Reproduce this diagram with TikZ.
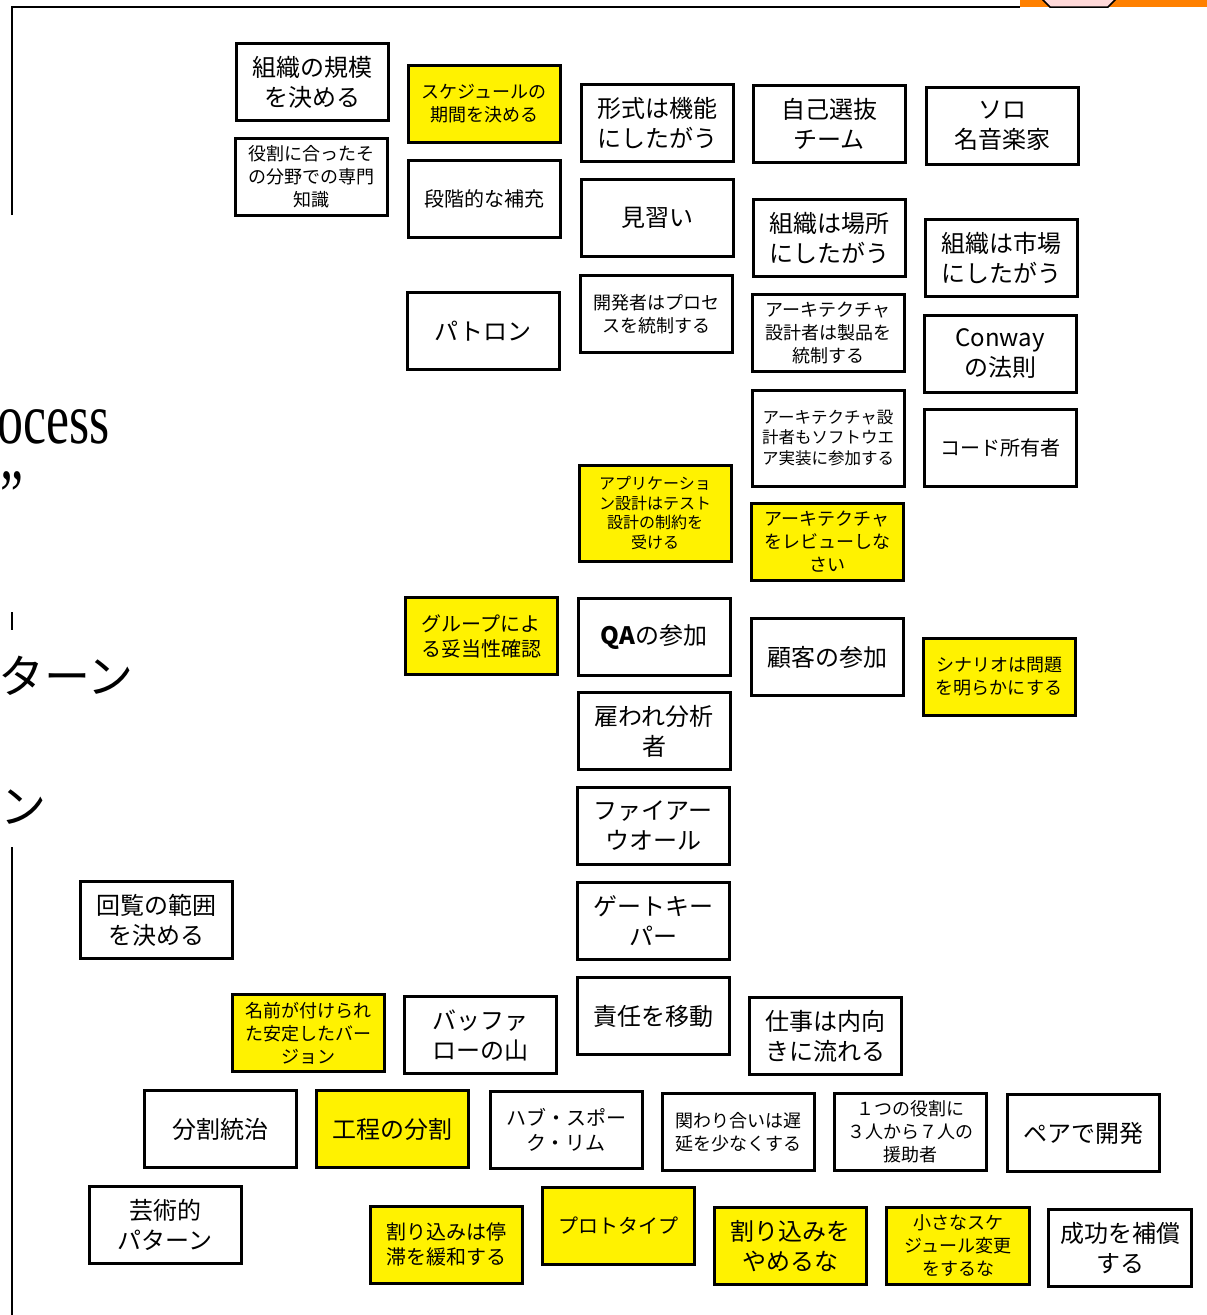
\documentclass[tikz,border=0pt]{standalone}
\usepackage{fontspec}
\setmainfont{Liberation Serif}
\newfontfamily\jpfont{Noto Sans CJK JP}
\begin{document}
\begin{tikzpicture}[x=1pt,y=-1pt,
  box/.style={draw,line width=3pt,minimum width=152pt,minimum height=77pt,inner sep=0pt,align=center},
  ybox/.style={box,fill=yellow},
  fbig/.style={font=\jpfont\fontsize{24}{30}\selectfont},
  fmid/.style={font=\jpfont\fontsize{20}{25}\selectfont},
  fsmall/.style={font=\jpfont\fontsize{18}{23}\selectfont},
  ftiny/.style={font=\jpfont\fontsize{16}{19.5}\selectfont}]
\useasboundingbox (0,0) rectangle (1207,1315);

\fill[orange] (1020,-3) rectangle (1210,7);
\path[draw,line width=1.5pt,fill=pink!60] (1040,-3) -- (1050,7) -- (1108,7) -- (1118,-3);
\path[draw,line width=2.5pt] (12,215) -- (12,7) -- (1020,7);
\path[draw,line width=2.5pt] (12,612) -- (12,630);
\path[draw,line width=2.5pt] (12,847) -- (12,1320);

\node[anchor=base west,inner sep=0pt,font=\fontsize{72}{80}\selectfont,xscale=0.72] (t1) at (-3,443) {ocess};
\node[anchor=base west,inner sep=0pt,font=\fontsize{72}{80}\selectfont,xscale=0.72] (t2) at (0,519) {”};
\node[anchor=base east,inner sep=0pt,font=\jpfont\fontsize{46}{50}\selectfont] (t3) at (134,693) {ターン};
\node[anchor=base east,inner sep=0pt,font=\jpfont\fontsize{46}{50}\selectfont] (t4) at (47,823) {ン};

\node[box,fbig] (1) at (312,82) {組織の規模\\を決める};
\node[box,fsmall] (2) at (311,177) {役割に合ったそ\\の分野での専門\\知識};
\node[ybox,fsmall] (3) at (484,104) {スケジュールの\\期間を決める};
\node[box,fmid] (4) at (484,199) {段階的な補充};
\node[box,fbig] (5) at (483,331) {パトロン};
\node[box,fbig] (6) at (657,123) {形式は機能\\にしたがう};
\node[box,fbig] (7) at (657,218) {見習い};
\node[box,fsmall] (8) at (656,314) {開発者はプロセ\\スを統制する};
\node[ybox,ftiny,minimum height=96pt] (9) at (655,513) {アプリケーショ\\ン設計はテスト\\設計の制約を\\受ける};
\node[box,fbig] (10) at (829,124) {自己選抜\\チーム};
\node[box,fbig] (11) at (829,238) {組織は場所\\にしたがう};
\node[box,fsmall] (12) at (828,333) {アーキテクチャ\\設計者は製品を\\統制する};
\node[box,ftiny,minimum height=96pt,font=\jpfont\fontsize{16.5}{20.5}\selectfont] (13) at (828,438) {アーキテクチャ設\\計者もソフトウエ\\ア実装に参加する};
\node[ybox,fsmall] (14) at (827,542) {アーキテクチャ\\をレビューしな\\さい};
\node[box,fbig] (15) at (1002,126) {ソロ\\名音楽家};
\node[box,fbig] (16) at (1001,258) {組織は市場\\にしたがう};
\node[box,fbig] (17) at (1000,354) {Conway\\の法則};
\node[box,fmid] (18) at (1000,448) {コード所有者};
\node[ybox,fmid] (19) at (481,636) {グループによ\\る妥当性確認};
\node[box,fbig] (20) at (654,637) {\textbf{QA}の参加};
\node[box,fbig] (21) at (827,657) {顧客の参加};
\node[ybox,fsmall] (22) at (999,677) {シナリオは問題\\を明らかにする};
\node[box,fbig] (23) at (654,731) {雇われ分析\\者};
\node[box,fbig] (24) at (653,826) {ファイアー\\ウオール};
\node[box,fbig] (25) at (653,921) {ゲートキー\\パー};
\node[box,fbig] (26) at (653,1016) {責任を移動};
\node[box,fbig] (27) at (825,1036) {仕事は内向\\きに流れる};
\node[box,fbig] (28) at (156,920) {回覧の範囲\\を決める};
\node[ybox,fsmall] (29) at (308,1033) {名前が付けられ\\た安定したバー\\ジョン};
\node[box,fbig] (30) at (480,1035) {バッファ\\ローの山};
\node[box,fbig] (31) at (220,1129) {分割統治};
\node[ybox,fbig] (32) at (392,1129) {工程の分割};
\node[box,fmid] (33) at (566,1130) {ハブ・スポー\\ク・リム};
\node[box,fsmall] (34) at (738,1132) {関わり合いは遅\\延を少なくする};
\node[box,fsmall] (35) at (910,1132) {１つの役割に\\３人から７人の\\援助者};
\node[box,fbig] (36) at (1083,1133) {ペアで開発};
\node[box,fbig] (37) at (165,1225) {芸術的\\パターン};
\node[ybox,fmid] (38) at (446,1245) {割り込みは停\\滞を緩和する};
\node[ybox,fmid] (39) at (618,1226) {プロトタイプ};
\node[ybox,fbig] (40) at (790,1246) {割り込みを\\やめるな};
\node[ybox,fsmall,minimum width=143pt] (41) at (958,1246) {小さなスケ\\ジュール変更\\をするな};
\node[box,fbig,minimum width=143pt] (42) at (1120,1248) {成功を補償\\する};
\end{tikzpicture}
\end{document}
